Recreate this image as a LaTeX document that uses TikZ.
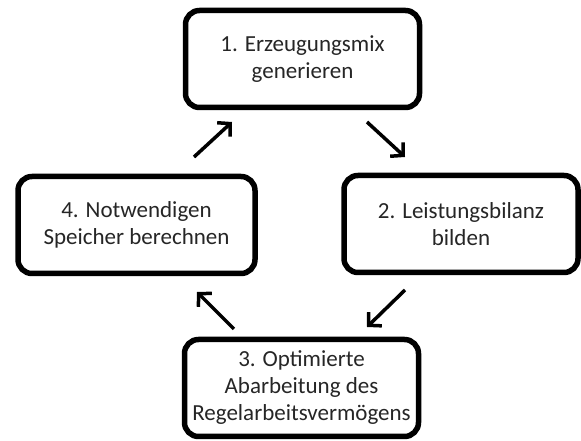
\documentclass[tikz,border=0pt]{standalone}
\usepackage{fontspec}
\setmainfont{Carlito}
\usetikzlibrary{arrows.meta,shadows}
\tikzset{
  box/.style={draw, line width=5.5pt, rounded corners=14pt, fill=white,
    align=center, text=black!85, font=\fontsize{23}{27}\selectfont,
    minimum width=234pt, minimum height=97pt,
    drop shadow={opacity=0.2, shadow xshift=1.5pt, shadow yshift=-2.5pt}},
  arr/.style={line width=3.5pt, -{Straight Barb[length=9pt,width=19pt,line width=3.5pt]}}
}
\begin{document}
\begin{tikzpicture}[x=1pt,y=1pt]
\useasboundingbox (0,0) rectangle (581,441);
\node[box] (erzeugung) at (302.5,382) {1. Erzeugungsmix\\generieren};
\node[box] (bilanz) at (461,217) {2. Leistungsbilanz\\bilden};
\node[box] (optimierung) at (301.5,53) {3. Optimierte\\Abarbeitung des\\Regelarbeitsverm\"ogens};
\node[box, minimum width=237pt] (speicher) at (136.5,216) {4. Notwendigen\\Speicher berechnen};
% arrows between the boxes
\coordinate (a1s) at (367,319);
\coordinate (a1e) at (405,284);
\coordinate (a2s) at (405,151);
\coordinate (a2e) at (367,114);
\coordinate (a3s) at (234,112);
\coordinate (a3e) at (197,149);
\coordinate (a4s) at (194,284);
\coordinate (a4e) at (232,319);
\draw[arr] (a1s) -- (a1e);
\draw[arr] (a2s) -- (a2e);
\draw[arr] (a3s) -- (a3e);
\draw[arr] (a4s) -- (a4e);
\end{tikzpicture}
\end{document}
